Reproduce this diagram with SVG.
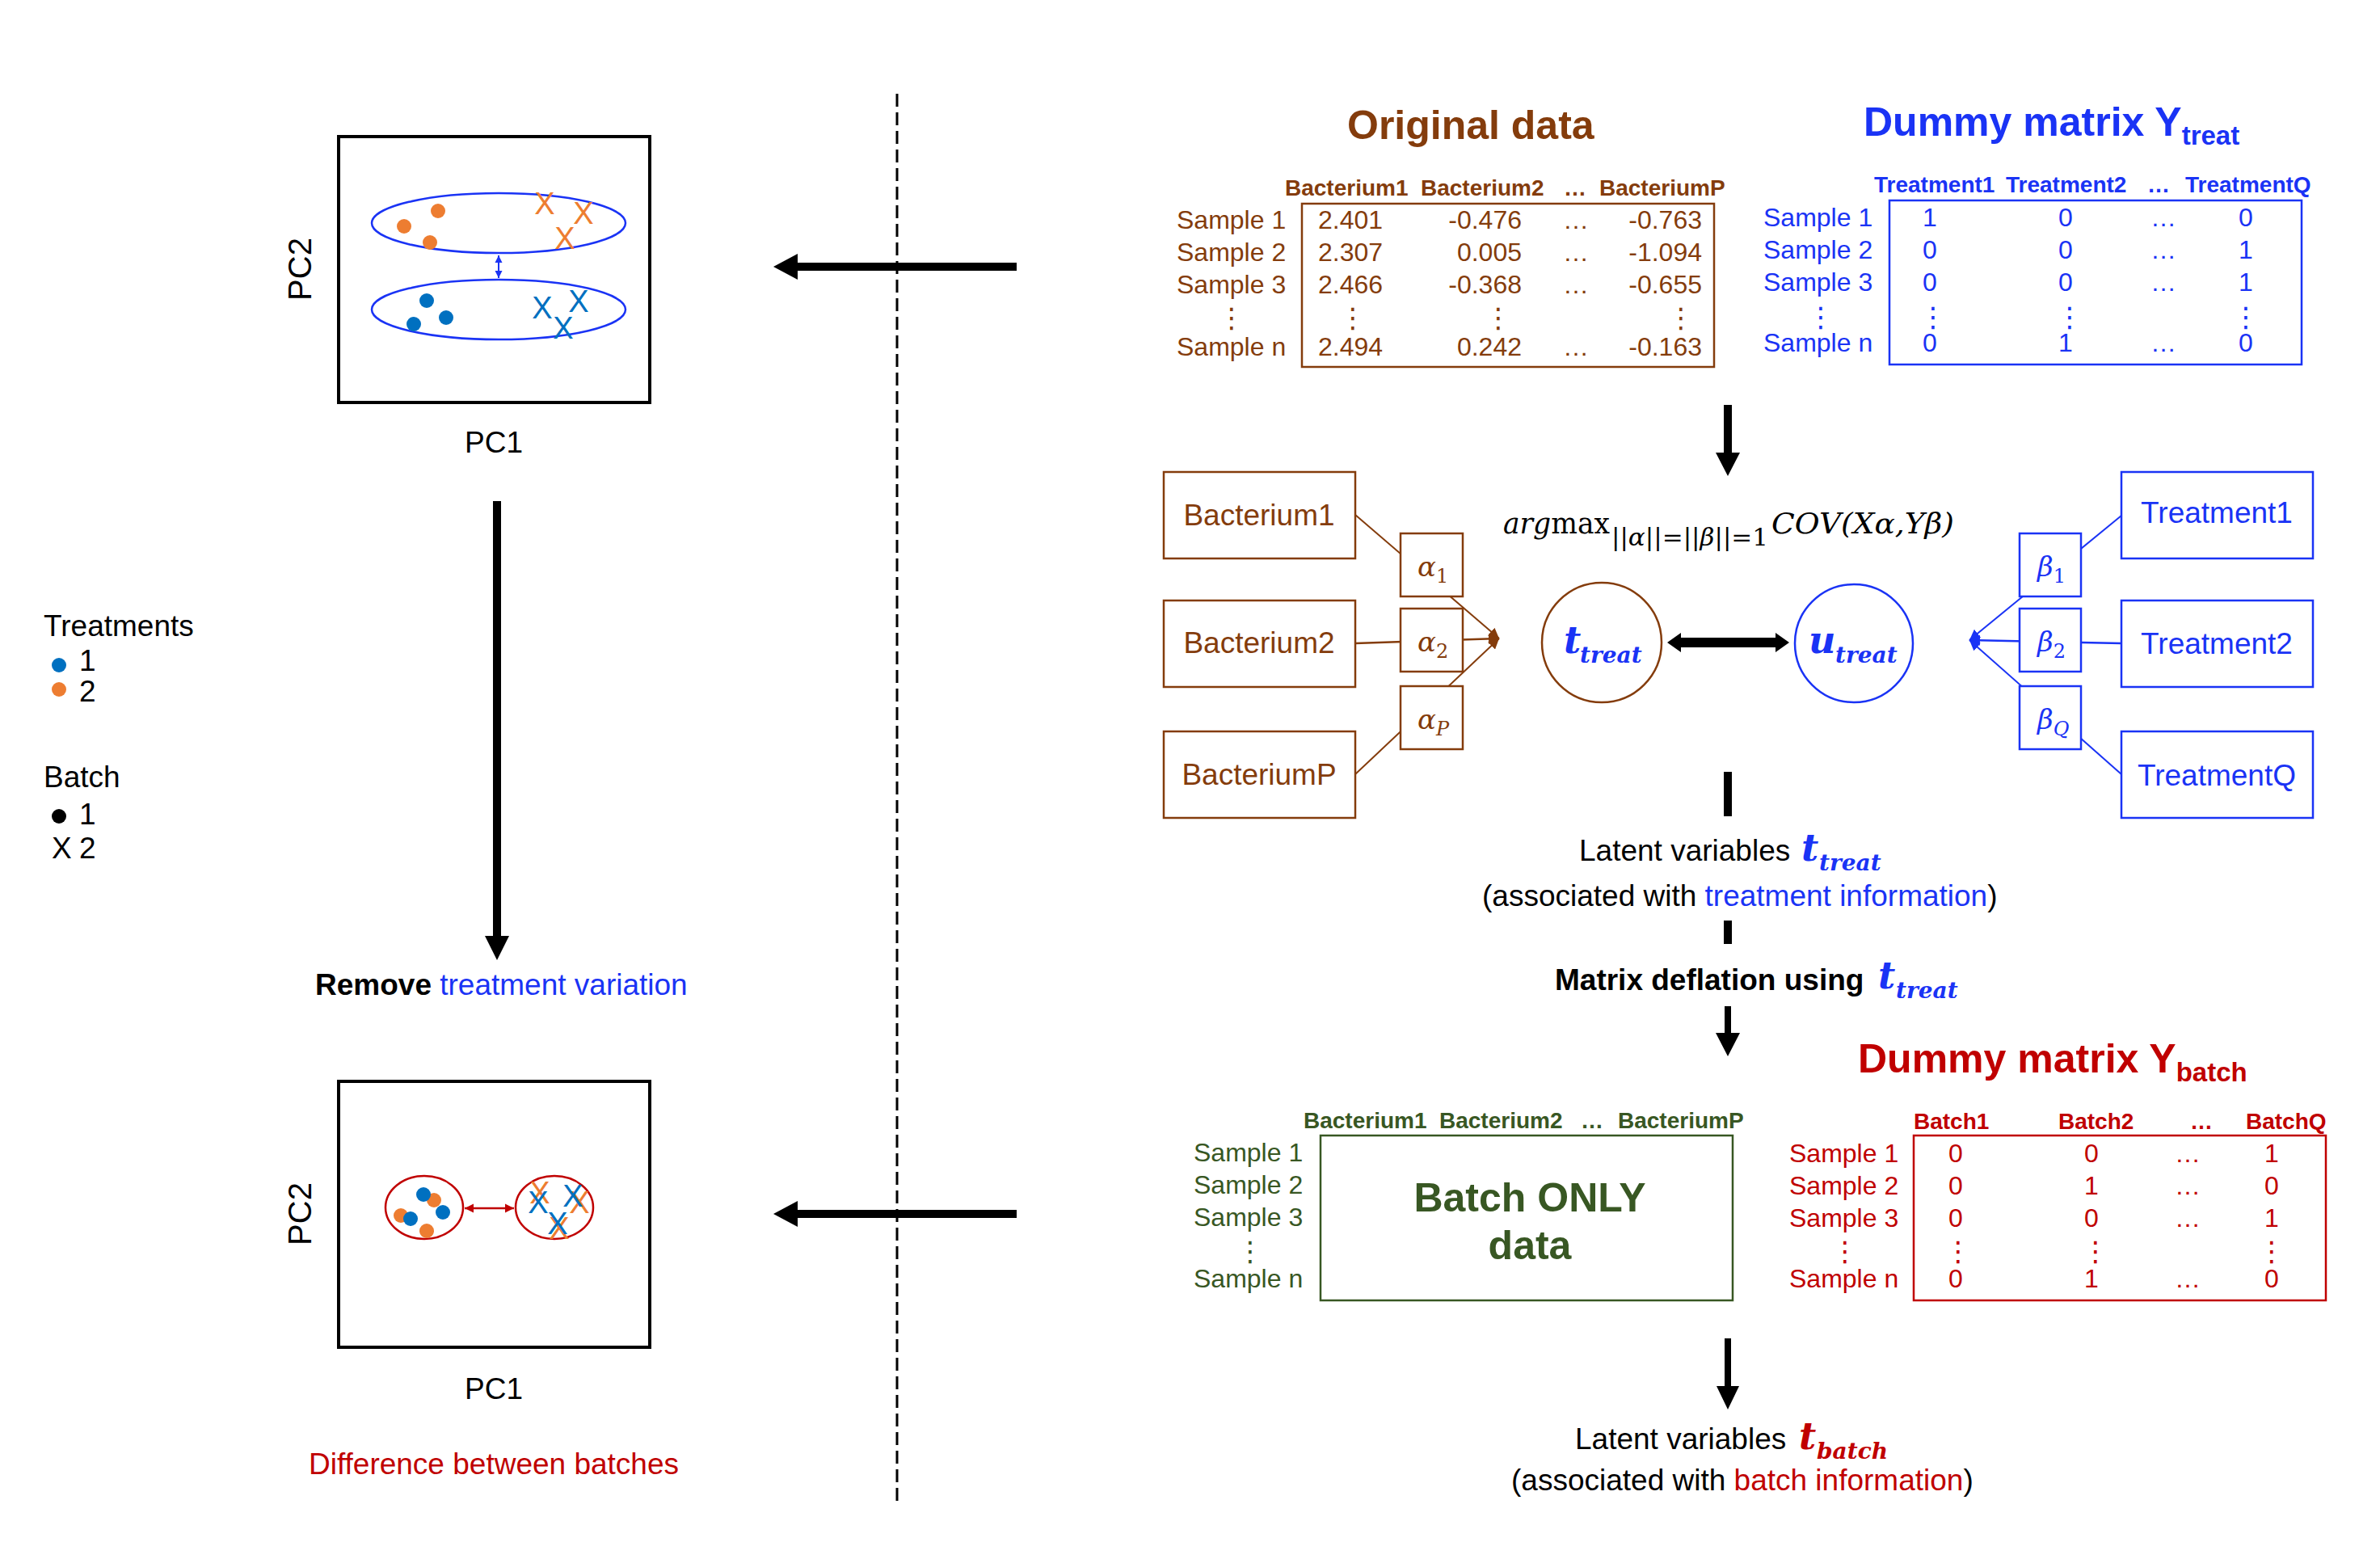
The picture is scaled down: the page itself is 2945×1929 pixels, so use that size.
<svg xmlns="http://www.w3.org/2000/svg" width="2945" height="1929" viewBox="0 0 2945 1929">
<defs>
<style>
text{font-family:"Liberation Sans",Arial,sans-serif}
.b{font-weight:bold}
.brown{fill:#843C0C}
.blue{fill:#1A33F5}
.green{fill:#385723}
.red{fill:#C00000}
.blk{fill:#000}
.lbl{font-size:37px}
.cell{font-size:32px}
.hdr{font-size:28px;font-weight:bold}
.title{font-size:50px;font-weight:bold}
.sub{font-size:33px;font-weight:bold}
.vd{font-family:"DejaVu Sans",sans-serif;font-size:34px;text-anchor:middle}
.mid{text-anchor:middle}
.end{text-anchor:end}
.math{font-family:"DejaVu Serif",serif;font-weight:bold;font-style:italic}
text.ser{font-family:"DejaVu Serif","Liberation Serif",serif}
.it{font-style:italic}
.xm{font-size:38px;text-anchor:middle}
.box{fill:#fff;stroke-width:2.5}
.sbrown{stroke:#843C0C}
.sblue{stroke:#1A33F5}
.sgreen{stroke:#385723}
.sred{stroke:#C00000}
.pca{fill:none;stroke:#000;stroke-width:4}
.or{fill:#ED7D31}
.bl{fill:#0070C0}
.ell{fill:none;stroke-width:2.5}
</style>
<marker id="ahBrown" viewBox="0 0 10 10" refX="10" refY="5" markerWidth="13" markerHeight="13" markerUnits="userSpaceOnUse" orient="auto"><path d="M0,0 L10,5 L0,10 z" fill="#843C0C"/></marker>
<marker id="ahBlue" viewBox="0 0 10 10" refX="10" refY="5" markerWidth="13" markerHeight="13" markerUnits="userSpaceOnUse" orient="auto"><path d="M0,0 L10,5 L0,10 z" fill="#1A33F5"/></marker>
<marker id="hBlue" viewBox="0 0 10 10" refX="10" refY="5" markerWidth="9" markerHeight="10" markerUnits="userSpaceOnUse" orient="auto-start-reverse"><path d="M0,0 L10,5 L0,10 z" fill="#1A33F5"/></marker>
<marker id="hRed" viewBox="0 0 10 10" refX="10" refY="5" markerWidth="11" markerHeight="12" markerUnits="userSpaceOnUse" orient="auto-start-reverse"><path d="M0,0 L10,5 L0,10 z" fill="#C00000"/></marker>
</defs>
<rect width="2945" height="1929" fill="#fff"/>

<!-- separator -->
<g id="separator">
<line x1="1110" y1="116" x2="1110" y2="1862" stroke="#000" stroke-width="3" stroke-dasharray="16 7"/>
</g>

<!-- connectors -->
<g id="connectors">
<polygon points="957,330 987,314 987,325 1258,325 1258,335 987,335 987,346" fill="#000"/>
<polygon points="957,1502 987,1486 987,1497 1258,1497 1258,1507 987,1507 987,1518" fill="#000"/>
<polygon points="610,620 620,620 620,1158 630,1158 615,1188 600,1158 610,1158" fill="#000"/>
<polygon points="2133,501 2143,501 2143,560 2153,560 2138,589 2123,560 2133,560" fill="#000"/>
<rect x="2133" y="955" width="10" height="55" fill="#000"/>
<rect x="2133" y="1139" width="10" height="29" fill="#000"/>
<polygon points="2134,1245 2142,1245 2142,1278 2153,1278 2138,1307 2123,1278 2134,1278" fill="#000"/>
<polygon points="2134,1656 2142,1656 2142,1715 2152,1715 2138,1744 2124,1715 2134,1715" fill="#000"/>
<polygon points="2063,795 2080,783 2080,789 2197,789 2197,783 2214,795 2197,807 2197,801 2080,801 2080,807" fill="#000"/>
<line x1="1677" y1="637" x2="1855" y2="790" stroke="#843C0C" stroke-width="2" marker-end="url(#ahBrown)"/>
<line x1="1677" y1="796" x2="1855" y2="790" stroke="#843C0C" stroke-width="2.5" marker-end="url(#ahBrown)"/>
<line x1="1677" y1="958" x2="1855" y2="790" stroke="#843C0C" stroke-width="2" marker-end="url(#ahBrown)"/>
<line x1="2625" y1="638" x2="2437" y2="792" stroke="#1A33F5" stroke-width="2" marker-end="url(#ahBlue)"/>
<line x1="2625" y1="796" x2="2437" y2="792" stroke="#1A33F5" stroke-width="2.5" marker-end="url(#ahBlue)"/>
<line x1="2625" y1="958" x2="2437" y2="792" stroke="#1A33F5" stroke-width="2" marker-end="url(#ahBlue)"/>
</g>

<!-- top PCA -->
<g id="pca-top">
<rect x="419" y="169" width="385" height="329" class="pca"/>
<text x="385" y="333" class="mid" font-size="40" transform="rotate(-90 385 333)">PC2</text>
<text x="611" y="560" class="mid lbl">PC1</text>
<ellipse cx="617" cy="276" rx="157" ry="37" class="ell sblue"/>
<ellipse cx="617" cy="383" rx="157" ry="37" class="ell sblue"/>
<line x1="617" y1="316" x2="617" y2="344" stroke="#1A33F5" stroke-width="2" marker-start="url(#hBlue)" marker-end="url(#hBlue)"/>
<circle cx="542" cy="261" r="9" class="or"/>
<circle cx="500" cy="280" r="9" class="or"/>
<circle cx="532" cy="300" r="9" class="or"/>
<text x="674" y="265" class="xm" fill="#ED7D31">X</text>
<text x="722" y="277" class="xm" fill="#ED7D31">X</text>
<text x="699" y="308" class="xm" fill="#ED7D31">X</text>
<circle cx="528" cy="372" r="9" class="bl"/>
<circle cx="552" cy="393" r="9" class="bl"/>
<circle cx="512" cy="401" r="9" class="bl"/>
<text x="671" y="394" class="xm" fill="#0070C0">X</text>
<text x="716" y="386" class="xm" fill="#0070C0">X</text>
<text x="697" y="419" class="xm" fill="#0070C0">X</text>
</g>

<!-- legend -->
<g id="legend">
<text x="54" y="787" class="lbl">Treatments</text>
<circle cx="73" cy="823" r="9" class="bl"/>
<text x="98" y="830" class="lbl">1</text>
<circle cx="73" cy="853" r="9" class="or"/>
<text x="98" y="868" class="lbl">2</text>
<text x="54" y="974" class="lbl">Batch</text>
<circle cx="73" cy="1010" r="9" fill="#000"/>
<text x="98" y="1020" class="lbl">1</text>
<text x="64" y="1062" class="lbl">X</text>
<text x="98" y="1062" class="lbl">2</text>
</g>

<g id="remove-label">
<text x="390" y="1231" class="lbl"><tspan class="b">Remove </tspan><tspan class="blue">treatment variation</tspan></text>
</g>

<!-- bottom PCA -->
<g id="pca-bottom">
<rect x="419" y="1338" width="385" height="329" class="pca"/>
<text x="385" y="1502" class="mid" font-size="40" transform="rotate(-90 385 1502)">PC2</text>
<text x="611" y="1731" class="mid lbl">PC1</text>
<ellipse cx="525" cy="1494" rx="48" ry="39" class="ell sred"/>
<ellipse cx="686" cy="1494" rx="48" ry="39" class="ell sred"/>
<line x1="575" y1="1495" x2="636" y2="1495" stroke="#C00000" stroke-width="2.5" marker-start="url(#hRed)" marker-end="url(#hRed)"/>
<circle cx="537" cy="1485" r="9" class="or"/>
<circle cx="524" cy="1478" r="9" class="bl"/>
<circle cx="548" cy="1500" r="9" class="bl"/>
<circle cx="496" cy="1504" r="9" class="or"/>
<circle cx="508" cy="1508" r="9" class="bl"/>
<circle cx="528" cy="1523" r="9" class="or"/>
<text x="668" y="1489" class="xm" fill="#ED7D31">X</text>
<text x="717" y="1501" class="xm" fill="#ED7D31">X</text>
<text x="692" y="1533" class="xm" fill="#ED7D31">X</text>
<text x="666" y="1501" class="xm" fill="#0070C0">X</text>
<text x="709" y="1493" class="xm" fill="#0070C0">X</text>
<text x="690" y="1527" class="xm" fill="#0070C0">X</text>
</g>

<g id="difference-label">
<text x="611" y="1824" class="mid lbl red">Difference between batches</text>
</g>

<!-- Original data -->
<g id="original-data">
<text x="1667" y="172" class="title brown">Original data</text>
<text y="242" class="hdr brown"><tspan x="1590">Bacterium1</tspan><tspan x="1758">Bacterium2</tspan><tspan x="1935">…</tspan><tspan x="1979">BacteriumP</tspan></text>
<rect x="1611" y="252" width="510" height="202" class="box sbrown"/>
<g class="cell brown">
<text x="1456" y="283">Sample 1</text>
<text x="1456" y="323">Sample 2</text>
<text x="1456" y="363">Sample 3</text>
<text x="1456" y="440">Sample n</text>
<text x="1631" y="283">2.401</text>
<text x="1631" y="323">2.307</text>
<text x="1631" y="363">2.466</text>
<text x="1631" y="440">2.494</text>
<text x="1883" y="283" class="end">-0.476</text>
<text x="1883" y="323" class="end">0.005</text>
<text x="1883" y="363" class="end">-0.368</text>
<text x="1883" y="440" class="end">0.242</text>
<text x="1950" y="283" class="mid">…</text>
<text x="1950" y="323" class="mid">…</text>
<text x="1950" y="363" class="mid">…</text>
<text x="1950" y="440" class="mid">…</text>
<text x="2106" y="283" class="end">-0.763</text>
<text x="2106" y="323" class="end">-1.094</text>
<text x="2106" y="363" class="end">-0.655</text>
<text x="2106" y="440" class="end">-0.163</text>
</g>
<g class="brown">
<text x="1524" y="405" class="vd">⋮</text>
<text x="1674" y="405" class="vd">⋮</text>
<text x="1854" y="405" class="vd">⋮</text>
<text x="2080" y="405" class="vd">⋮</text>
</g>
</g>

<!-- Dummy matrix Y treat -->
<g id="dummy-treat">
<text x="2306" y="168" class="title blue">Dummy matrix Y<tspan class="sub" dy="11">treat</tspan></text>
<text y="238" class="hdr blue"><tspan x="2319">Treatment1</tspan><tspan x="2482">Treatment2</tspan><tspan x="2657">…</tspan><tspan x="2704">TreatmentQ</tspan></text>
<rect x="2338" y="248" width="510" height="203" class="box sblue"/>
<g class="cell blue">
<text x="2182" y="280">Sample 1</text>
<text x="2182" y="320">Sample 2</text>
<text x="2182" y="360">Sample 3</text>
<text x="2182" y="435">Sample n</text>
<g class="mid">
<text x="2388" y="280">1</text><text x="2556" y="280">0</text><text x="2677" y="280">…</text><text x="2779" y="280">0</text>
<text x="2388" y="320">0</text><text x="2556" y="320">0</text><text x="2677" y="320">…</text><text x="2779" y="320">1</text>
<text x="2388" y="360">0</text><text x="2556" y="360">0</text><text x="2677" y="360">…</text><text x="2779" y="360">1</text>
<text x="2388" y="435">0</text><text x="2556" y="435">1</text><text x="2677" y="435">…</text><text x="2779" y="435">0</text>
</g>
</g>
<g class="blue">
<text x="2253" y="404" class="vd">⋮</text>
<text x="2392" y="404" class="vd">⋮</text>
<text x="2561" y="404" class="vd">⋮</text>
<text x="2779" y="404" class="vd">⋮</text>
</g>
</g>

<!-- formula -->
<g id="formula">
<text x="1860" y="660" class="ser" font-size="35" textLength="132" lengthAdjust="spacingAndGlyphs"><tspan class="it">arg</tspan>max</text>
<text x="1994" y="675" class="ser" font-size="30" textLength="194" lengthAdjust="spacingAndGlyphs">||<tspan class="it">α</tspan>||=||<tspan class="it">β</tspan>||=1</text>
<text x="2192" y="660" class="ser it" font-size="36" textLength="226" lengthAdjust="spacingAndGlyphs">COV(Xα,Yβ)</text>
</g>

<!-- Bacterium nodes -->
<g id="bacterium1"><rect x="1440" y="584" width="237" height="107" class="box sbrown"/><text x="1558" y="650" class="mid lbl brown">Bacterium1</text></g>
<g id="bacterium2"><rect x="1440" y="743" width="237" height="107" class="box sbrown"/><text x="1558" y="808" class="mid lbl brown">Bacterium2</text></g>
<g id="bacteriumP"><rect x="1440" y="905" width="237" height="107" class="box sbrown"/><text x="1558" y="971" class="mid lbl brown">BacteriumP</text></g>

<g id="alpha1"><rect x="1733" y="660" width="77" height="78" class="box sbrown"/><text x="1754" y="713" class="ser it brown" font-size="34">α<tspan font-size="24" dy="8" font-style="normal">1</tspan></text></g>
<g id="alpha2"><rect x="1733" y="753" width="77" height="78" class="box sbrown"/><text x="1754" y="806" class="ser it brown" font-size="34">α<tspan font-size="24" dy="8" font-style="normal">2</tspan></text></g>
<g id="alphaP"><rect x="1733" y="849" width="77" height="78" class="box sbrown"/><text x="1754" y="902" class="ser it brown" font-size="34">α<tspan font-size="24" dy="8">P</tspan></text></g>

<g id="t-treat"><circle cx="1982" cy="795" r="74" class="ell sbrown" fill="#fff"/><text y="808" class="math blue"><tspan x="1935" font-size="46">t</tspan><tspan x="1955" dy="12" font-size="28">treat</tspan></text></g>
<g id="u-treat"><circle cx="2294" cy="796" r="73" class="ell sblue" fill="#fff"/><text y="808" class="math blue"><tspan x="2238" font-size="46">u</tspan><tspan x="2271" dy="12" font-size="28">treat</tspan></text></g>

<g id="beta1"><rect x="2499" y="660" width="76" height="78" class="box sblue"/><text x="2521" y="713" class="ser it blue" font-size="34">β<tspan font-size="24" dy="8" font-style="normal">1</tspan></text></g>
<g id="beta2"><rect x="2499" y="753" width="76" height="78" class="box sblue"/><text x="2521" y="806" class="ser it blue" font-size="34">β<tspan font-size="24" dy="8" font-style="normal">2</tspan></text></g>
<g id="betaQ"><rect x="2499" y="849" width="76" height="78" class="box sblue"/><text x="2521" y="902" class="ser it blue" font-size="34">β<tspan font-size="24" dy="8">Q</tspan></text></g>

<g id="treatment1"><rect x="2625" y="584" width="237" height="107" class="box sblue"/><text x="2743" y="647" class="mid lbl blue">Treatment1</text></g>
<g id="treatment2"><rect x="2625" y="743" width="237" height="107" class="box sblue"/><text x="2743" y="809" class="mid lbl blue">Treatment2</text></g>
<g id="treatmentQ"><rect x="2625" y="905" width="237" height="107" class="box sblue"/><text x="2743" y="972" class="mid lbl blue">TreatmentQ</text></g>

<!-- latent treat -->
<g id="latent-treat">
<text y="1065" class="lbl"><tspan x="1954">Latent variables </tspan><tspan x="2229" class="math blue" font-size="46">t</tspan><tspan x="2251" dy="12" class="math blue" font-size="28">treat</tspan></text>
<text x="1834" y="1121" class="lbl">(associated with <tspan class="blue">treatment information</tspan>)</text>
</g>
<g id="deflation">
<text y="1225" class="lbl"><tspan x="1924" class="b">Matrix deflation using </tspan><tspan x="2324" dy="-2" class="math blue" font-size="46">t</tspan><tspan x="2346" dy="12" class="math blue" font-size="28">treat</tspan></text>
</g>

<!-- Batch only data -->
<g id="batch-only-data">
<text y="1396" class="hdr green"><tspan x="1613">Bacterium1</tspan><tspan x="1781">Bacterium2</tspan><tspan x="1956">…</tspan><tspan x="2002">BacteriumP</tspan></text>
<rect x="1634" y="1405" width="510" height="204" class="box sgreen"/>
<g class="cell green">
<text x="1477" y="1437">Sample 1</text>
<text x="1477" y="1477">Sample 2</text>
<text x="1477" y="1517">Sample 3</text>
<text x="1477" y="1593">Sample n</text>
</g>
<text x="1547" y="1560" class="vd green">⋮</text>
<text x="1893" y="1499" class="mid title green">Batch ONLY</text>
<text x="1893" y="1558" class="mid title green">data</text>
</g>

<!-- Dummy matrix Y batch -->
<g id="dummy-batch">
<text x="2299" y="1327" class="title red">Dummy matrix Y<tspan class="sub" dy="11">batch</tspan></text>
<text y="1397" class="hdr red"><tspan x="2368">Batch1</tspan><tspan x="2547">Batch2</tspan><tspan x="2710">…</tspan><tspan x="2779">BatchQ</tspan></text>
<rect x="2368" y="1405" width="510" height="204" class="box sred"/>
<g class="cell red">
<text x="2214" y="1438">Sample 1</text>
<text x="2214" y="1478">Sample 2</text>
<text x="2214" y="1518">Sample 3</text>
<text x="2214" y="1593">Sample n</text>
<g class="mid">
<text x="2420" y="1438">0</text><text x="2588" y="1438">0</text><text x="2707" y="1438">…</text><text x="2811" y="1438">1</text>
<text x="2420" y="1478">0</text><text x="2588" y="1478">1</text><text x="2707" y="1478">…</text><text x="2811" y="1478">0</text>
<text x="2420" y="1518">0</text><text x="2588" y="1518">0</text><text x="2707" y="1518">…</text><text x="2811" y="1518">1</text>
<text x="2420" y="1593">0</text><text x="2588" y="1593">1</text><text x="2707" y="1593">…</text><text x="2811" y="1593">0</text>
</g>
</g>
<g class="red">
<text x="2283" y="1560" class="vd">⋮</text>
<text x="2423" y="1560" class="vd">⋮</text>
<text x="2593" y="1560" class="vd">⋮</text>
<text x="2811" y="1560" class="vd">⋮</text>
</g>
</g>

<!-- latent batch -->
<g id="latent-batch">
<text y="1793" class="lbl"><tspan x="1949">Latent variables </tspan><tspan x="2226" class="math red" font-size="46">t</tspan><tspan x="2248" dy="12" class="math red" font-size="28">batch</tspan></text>
<text x="1870" y="1844" class="lbl">(associated with <tspan class="red">batch information</tspan>)</text>
</g>
</svg>
